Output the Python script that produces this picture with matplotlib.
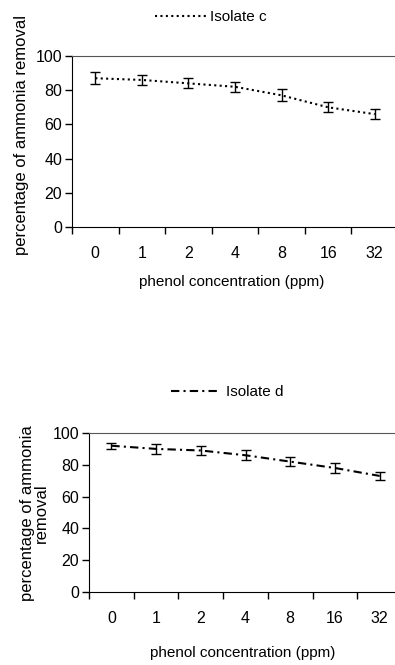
import numpy as np
import matplotlib
matplotlib.use("Agg")
import matplotlib.pyplot as plt
from matplotlib import font_manager
from matplotlib.lines import Line2D

# data
conc_labels = ["0", "1", "2", "4", "8", "16", "32"]
isolate_c = [87, 86, 84, 82, 77, 70, 66]
isolate_c_err = [3.5, 3, 3, 3, 3.5, 3, 3]
isolate_d = [92, 90, 89, 86, 82, 78, 73]
isolate_d_err = [2, 3, 3, 3, 3, 3, 2.5]

names = {f.name for f in font_manager.fontManager.ttflist}
family = "Liberation Sans Narrow" if "Liberation Sans Narrow" in names else "Liberation Sans"
plt.rcParams["font.family"] = [family, "DejaVu Sans"]
plt.rcParams["font.size"] = 11.5

W, H = 395, 665
fig = plt.figure(figsize=(W / 100, H / 100), dpi=100)


def panel(rect, vals, errs, ls, label, ylabel, ylabel_x, ylabel_y, leg_x, leg_y, xlab_y):
    l, t, r, b = rect
    ax = fig.add_axes([l / W, 1 - b / H, (r - l) / W, (b - t) / H])
    x = np.arange(len(vals)) + 0.5
    ax.errorbar(x, vals, yerr=errs, color="black", ls=ls, lw=1.5,
                ecolor="black", elinewidth=1.0, capsize=3.5, capthick=1.0)
    ax.set_xlim(0, len(vals))
    ax.set_ylim(0, 100)
    ax.set_yticks(range(0, 101, 20))
    ax.set_xticks(np.arange(len(vals) + 1))
    ax.set_xticklabels([])
    ax.set_xticks(x, minor=True)
    ax.set_xticklabels(conc_labels, minor=True)
    ax.tick_params(axis="x", which="major", direction="out", length=5, width=1)
    ax.tick_params(axis="x", which="minor", length=0, pad=14)
    ax.tick_params(axis="y", direction="out", length=5, width=1, pad=2)
    ax.spines["right"].set_visible(False)
    ax.spines["top"].set_color("#555555")
    fig.text(ylabel_x / W, 1 - ylabel_y / H, ylabel, rotation=90,
             ha="center", va="center", fontsize=12, linespacing=0.9)
    fig.text(((l + r) / 2 - 3) / W, 1 - xlab_y / H, "phenol concentration (ppm)",
             ha="center", va="center", fontsize=11)
    handle = Line2D([], [], color="black", ls=ls, lw=1.5)
    ax.legend([handle], [label], loc="center",
              bbox_to_anchor=(leg_x / W, 1 - leg_y / H),
              bbox_transform=fig.transFigure, frameon=False, handlelength=3.3,
              handletextpad=0.3, fontsize=11)
    return ax


panel((72, 56, 398, 227), isolate_c, isolate_c_err, (0, (1, 1.6)), "Isolate c",
      "percentage of ammonia removal", 22, 135, 211, 17, 282)
panel((89, 433, 402, 592), isolate_d, isolate_d_err, (0, (4, 2, 1, 2)), "Isolate d",
      "percentage of ammonia\nremoval", 34, 513, 227, 392, 653)

fig.savefig("out.png", dpi=100)
